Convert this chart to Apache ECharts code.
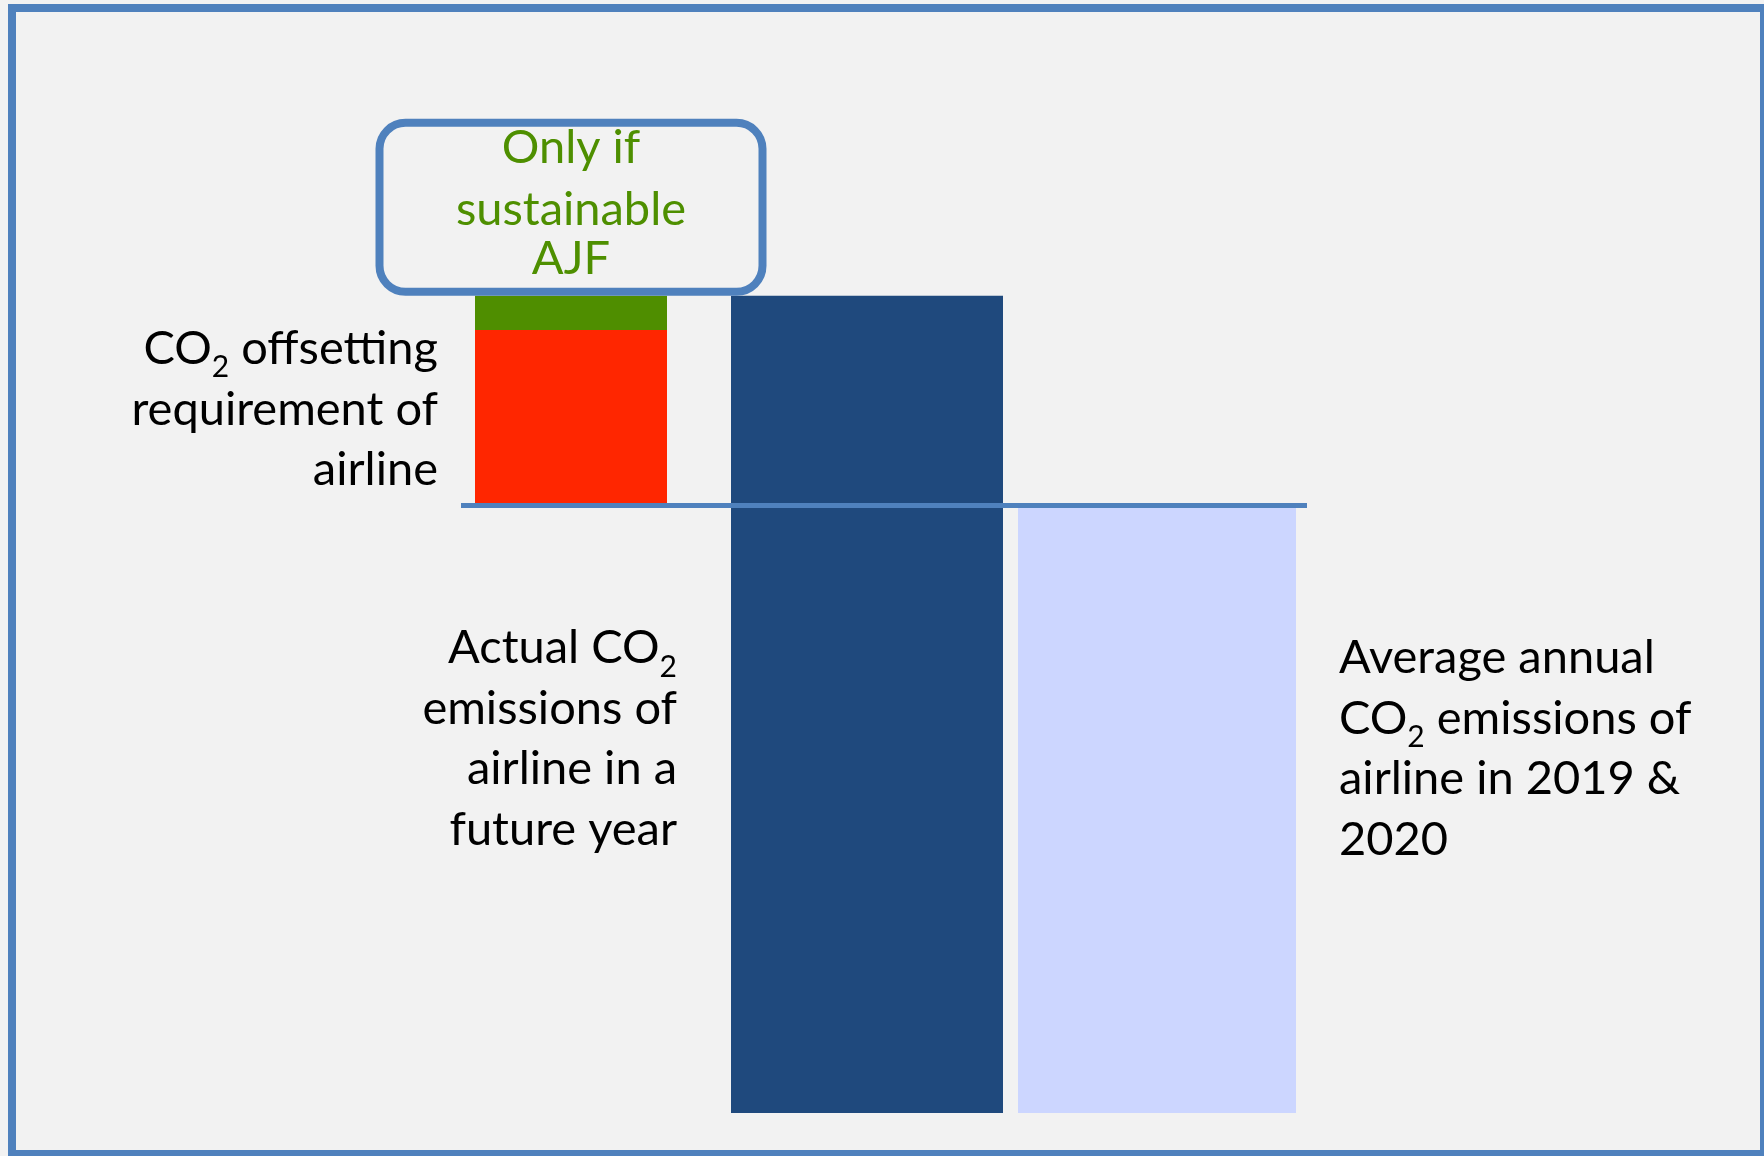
<!DOCTYPE html>
<html>
<head>
<meta charset="utf-8">
<script src="https://cdn.jsdelivr.net/npm/echarts@6/dist/echarts.min.js"></script>
<style>
  html, body { margin: 0; padding: 0; background: #f2f2f2; }
  #chart { width: 1764px; height: 1156px; }
</style>
</head>
<body>
<div id="chart"></div>
<script>
// ---- data (relative units, 2019/2020 average = 100) ----
const categories = ['CO2 offsetting requirement', 'Actual CO2 emissions (future year)', 'Average annual CO2 emissions 2019 & 2020'];
const hiddenBase = [100, '-', '-'];          // offset stack starts at the baseline level
const offsetRequirement = [28.8, '-', '-'];  // red
const sustainableAJF = [5.6, '-', '-'];      // green
const actualEmissions = ['-', 134.4, '-'];   // dark blue
const averageEmissions = ['-', '-', 100];    // light blue
const baselineLevel = 100;

// ---- texts ----
const labelOffsetting = '{n|CO}{s|2}{n| offsetting}\n{n|requirement of}\n{n|airline}';
const labelActual = '{n|Actual CO}{s|2}\n{n|emissions of}\n{n|airline in a}\n{n|future year}';
const labelAverage = '{n|Average annual}\n{n|CO}{s|2}{n| emissions of}\n{n|airline in 2019 &}\n{n|2020}';
const labelAJF = '{g1|Only if}\n{g2|sustainable}\n{g3|AJF}';

const FONT = 'Lato';
const blackRich = {
  n: { fontFamily: FONT, fontSize: 47, lineHeight: 60.5, color: '#000000' },
  s: { fontFamily: FONT, fontSize: 30, lineHeight: 23, height: 23, verticalAlign: 'bottom', color: '#000000' }
};
const green = '#4E8F00';
const greenRich = {
  g1: { fontFamily: FONT, fontSize: 47, lineHeight: 45, color: green },
  g2: { fontFamily: FONT, fontSize: 47, lineHeight: 78, color: green },
  g3: { fontFamily: FONT, fontSize: 47, lineHeight: 20, color: green }
};

const chart = echarts.init(document.getElementById('chart'), null, { renderer: 'canvas' });

// Each bar gets its own (overlapping) grid so that the three bar centres
// can sit at their own horizontal positions, all sharing one value scale.
const band = 290;
const centres = [571, 867, 1157];
const grids = centres.map((c, i) => ({
  left: c - (i + 0.5) * band, width: 3 * band, top: 201, bottom: 43, containLabel: false
}));
const xAxes = grids.map((g, i) => ({
  type: 'category', gridIndex: i, data: categories, show: false,
  axisLine: { show: false }, axisTick: { show: false }, axisLabel: { show: false }
}));
const yAxes = grids.map((g, i) => ({
  type: 'value', gridIndex: i, min: 0, max: 150, show: false, splitLine: { show: false }
}));

chart.setOption({
  animation: false,
  backgroundColor: '#f2f2f2',
  grid: grids,
  xAxis: xAxes,
  yAxis: yAxes,
  series: [
    {
      name: 'base', type: 'bar', xAxisIndex: 0, yAxisIndex: 0, stack: 'offset', barWidth: 192,
      data: hiddenBase, itemStyle: { color: 'rgba(0,0,0,0)' }, silent: true
    },
    {
      name: 'CO2 offsetting requirement', type: 'bar', xAxisIndex: 0, yAxisIndex: 0, stack: 'offset', barWidth: 192,
      data: offsetRequirement, itemStyle: { color: '#FF2600' }, silent: true,
      label: {
        show: true, position: 'left', distance: 37, offset: [0, -8],
        align: 'right', verticalAlign: 'middle',
        fontFamily: FONT, fontSize: 47, color: '#000',
        formatter: labelOffsetting, rich: blackRich
      }
    },
    {
      name: 'Only if sustainable AJF', type: 'bar', xAxisIndex: 0, yAxisIndex: 0, stack: 'offset', barWidth: 192,
      data: sustainableAJF, itemStyle: { color: '#4F8E00' }, silent: true,
      label: {
        show: true, position: 'top', distance: 4,
        align: 'center', verticalAlign: 'bottom',
        width: 383, padding: [2.5, 0, 23.5, 0],
        borderColor: '#4F81BD', borderWidth: 4, borderRadius: 26,
        backgroundColor: 'rgba(0,0,0,0)',
        fontFamily: FONT, fontSize: 47, color: green,
        formatter: labelAJF, rich: greenRich
      }
    },
    {
      name: 'Actual CO2 emissions', type: 'bar', xAxisIndex: 1, yAxisIndex: 1, barWidth: 272,
      data: actualEmissions, itemStyle: { color: '#1F497D' }, silent: true,
      label: {
        show: true, position: 'left', distance: 54, offset: [0, 34.5],
        align: 'right', verticalAlign: 'middle',
        fontFamily: FONT, fontSize: 47, color: '#000',
        formatter: labelActual, rich: blackRich
      }
    },
    {
      name: 'Average annual CO2 emissions', type: 'bar', xAxisIndex: 2, yAxisIndex: 2, barWidth: 278,
      data: averageEmissions, itemStyle: { color: '#CCD6FF' }, silent: true,
      label: {
        show: true, position: 'right', distance: 43, offset: [0, -60],
        align: 'left', verticalAlign: 'middle',
        fontFamily: FONT, fontSize: 47, color: '#000',
        formatter: labelAverage, rich: blackRich
      },
      markLine: {
        silent: true, symbol: ['none', 'none'], z: 10, animation: false,
        label: { show: false },
        lineStyle: { color: '#4F81BD', width: 5, type: 'solid' },
        emphasis: { disabled: true },
        data: [[{ x: 461, yAxis: baselineLevel }, { x: 1307, yAxis: baselineLevel }]]
      }
    }
  ],
  graphic: [{
    type: 'rect', silent: true, z: 100,
    shape: { x: 12, y: 8, width: 1752, height: 1146 },
    style: { fill: 'none', stroke: '#4F81BD', lineWidth: 8 }
  }]
});
</script>
</body>
</html>
